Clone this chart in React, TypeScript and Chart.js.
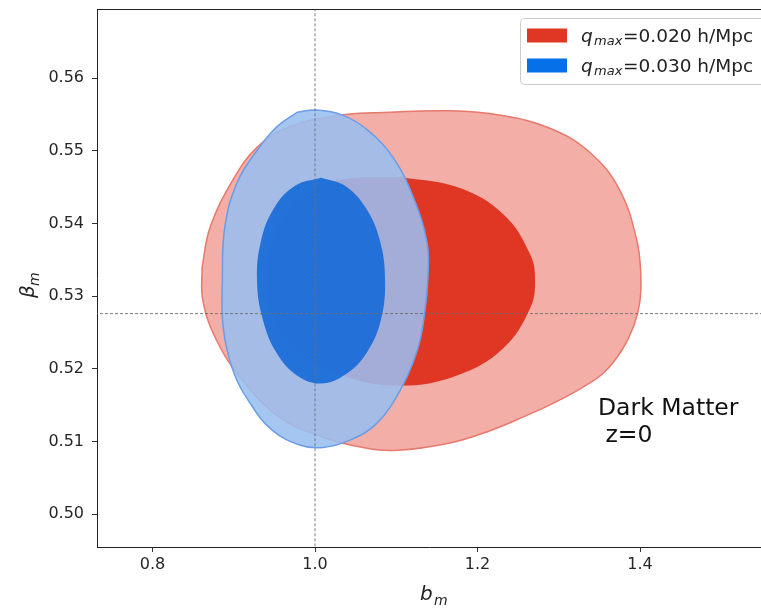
import React, { useEffect, useRef } from "react";
import { Chart, registerables } from "chart.js";

Chart.register(...registerables);

// ---- Data ----
const xTicks = [0.8, 1.0, 1.2, 1.4];
const yTicks = [0.5, 0.51, 0.52, 0.53, 0.54, 0.55, 0.56];

const fiducialB = 1.0;
const fiducialBeta = 0.5276;

// q_max = 0.020 h/Mpc, 95% contour
const redOuterX = [0.861, 0.871, 0.899, 0.929, 0.969, 1.031, 1.092, 1.166, 1.228, 1.289, 1.338, 1.375, 1.396, 1.401, 1.4, 1.3926, 1.3778, 1.3557, 1.3298, 1.2954, 1.2585, 1.2154, 1.166, 1.101, 1.059, 1.01, 0.957, 0.911, 0.879, 0.862];
const redOuterY = [0.534, 0.5395, 0.546, 0.5505, 0.5533, 0.5549, 0.5553, 0.5555, 0.5549, 0.5531, 0.5498, 0.5446, 0.5377, 0.5329, 0.5294, 0.526, 0.5226, 0.5195, 0.5175, 0.5154, 0.5135, 0.5115, 0.5098, 0.5088, 0.5092, 0.5106, 0.5133, 0.5184, 0.5239, 0.5294];
// q_max = 0.020 h/Mpc, 68% contour
const redInnerX = [1.1046, 1.1748, 1.2314, 1.2646, 1.2708, 1.2646, 1.2314, 1.1748, 1.1046, 1.0345, 0.9778, 0.9446, 0.9397, 0.9446, 0.9606, 0.9877, 1.0308];
const redInnerY = [0.5464, 0.545, 0.5413, 0.5358, 0.5321, 0.5283, 0.5228, 0.5191, 0.5177, 0.5191, 0.5228, 0.5283, 0.5321, 0.5363, 0.5405, 0.5439, 0.546];
// q_max = 0.030 h/Mpc, 95% contour
const blueOuterX = [0.978, 1.002, 1.034, 1.064, 1.096, 1.121, 1.138, 1.139, 1.135, 1.126, 1.105, 1.076, 1.043, 1.01, 0.982, 0.948, 0.92, 0.899, 0.887, 0.886, 0.889, 0.904, 0.929, 0.953];
const blueOuterY = [0.5553, 0.5556, 0.5549, 0.5529, 0.5491, 0.5436, 0.5373, 0.5326, 0.5277, 0.5226, 0.5171, 0.5125, 0.5102, 0.5092, 0.5095, 0.5115, 0.5153, 0.5198, 0.5257, 0.5322, 0.5395, 0.5456, 0.5501, 0.5533];
// q_max = 0.030 h/Mpc, 68% contour
const blueInnerX = [1.0074, 1.0369, 1.0628, 1.08, 1.0862, 1.0812, 1.064, 1.0382, 1.0074, 0.9778, 0.9532, 0.936, 0.9286, 0.9335, 0.9495, 0.9754];
const blueInnerY = [0.5463, 0.5452, 0.5421, 0.5376, 0.5322, 0.5268, 0.5223, 0.5193, 0.518, 0.5191, 0.5221, 0.5267, 0.5322, 0.5376, 0.5421, 0.5452];

const legendSymbol = "q";
const legendSub = "max";
const legendValues = ["=0.020 h/Mpc", "=0.030 h/Mpc"];
const legendColors = ["rgb(224,54,36)", "rgb(6,112,232)"];
const noteLines = ["Dark Matter", " z=0"];

const ring = (xs: number[], ys: number[]) => {
  const pts = xs.map((x, i) => ({ x, y: ys[i] }));
  pts.push(pts[0]);
  return pts;
};

const FONT = '"DejaVu Sans", sans-serif';

const annotPlugin = {
  id: "annot",
  afterDraw(chart: any) {
    const { ctx, chartArea } = chart;
    ctx.save();
    // top spine
    ctx.strokeStyle = "#222";
    ctx.lineWidth = 1;
    ctx.beginPath();
    ctx.moveTo(chartArea.left, chartArea.top + 0.5);
    ctx.lineTo(chartArea.right, chartArea.top + 0.5);
    ctx.stroke();

    // legend
    ctx.fillStyle = "rgba(255,255,255,0.8)";
    ctx.strokeStyle = "#cccccc";
    ctx.beginPath();
    (ctx as any).roundRect(520.5, 18.5, 270, 66, 4);
    ctx.fill();
    ctx.stroke();
    ctx.textAlign = "left";
    ctx.textBaseline = "alphabetic";
    legendValues.forEach((val, i) => {
      const yc = 35.5 + 30 * i;
      ctx.fillStyle = legendColors[i];
      ctx.fillRect(527, yc - 7, 40, 14);
      ctx.fillStyle = "#222";
      ctx.font = `italic 18.5px ${FONT}`;
      ctx.fillText(legendSymbol, 581, yc + 6.2);
      ctx.font = `italic 13px ${FONT}`;
      ctx.fillText(legendSub, 594, yc + 9.5);
      ctx.font = `18.5px ${FONT}`;
      ctx.fillText(val, 623, yc + 6.2);
    });

    // note
    ctx.fillStyle = "#111";
    ctx.font = `23.5px ${FONT}`;
    ctx.fillText(noteLines[0], 598, 415);
    ctx.fillText(noteLines[1], 598, 442);

    // x title
    ctx.fillStyle = "#222";
    ctx.font = `italic 20px ${FONT}`;
    ctx.fillText("b", 420, 600);
    ctx.font = `italic 14px ${FONT}`;
    ctx.fillText("m", 434, 605);

    // y title
    ctx.translate(34, 298);
    ctx.rotate(-Math.PI / 2);
    ctx.font = `italic 20px ${FONT}`;
    ctx.fillText("β", 0, 0);
    ctx.font = `italic 14px ${FONT}`;
    ctx.fillText("m", 12, 5);
    ctx.restore();
  },
};

export default function App() {
  const ref = useRef<HTMLCanvasElement>(null);
  useEffect(() => {
    document.body.style.margin = "0";
    const canvas = ref.current!;
    const tickFont = { family: FONT, size: 16 };
    const chart = new Chart(canvas, {
      type: "scatter",
      data: {
        datasets: [
          {
            label: "q_max=0.020 h/Mpc (95%)",
            data: ring(redOuterX, redOuterY),
            showLine: true,
            pointRadius: 0,
            fill: "shape",
            backgroundColor: "rgba(224,54,36,0.4)",
            borderColor: "#e7796d",
            borderWidth: 1.5,
            tension: 0.4,
            order: 6,
          },
          {
            label: "q_max=0.020 h/Mpc (68%)",
            data: ring(redInnerX, redInnerY),
            showLine: true,
            pointRadius: 0,
            fill: "shape",
            backgroundColor: "rgb(224,54,36)",
            borderColor: "rgb(224,54,36)",
            borderWidth: 0,
            tension: 0.4,
            order: 5,
          },
          {
            label: "q_max=0.030 h/Mpc (95%)",
            data: ring(blueOuterX, blueOuterY),
            showLine: true,
            pointRadius: 0,
            fill: "shape",
            backgroundColor: "rgba(154,190,240,0.88)",
            borderColor: "#6a9de6",
            borderWidth: 1.5,
            tension: 0.4,
            order: 4,
          },
          {
            label: "q_max=0.030 h/Mpc (68%)",
            data: ring(blueInnerX, blueInnerY),
            showLine: true,
            pointRadius: 0,
            fill: "shape",
            backgroundColor: "rgba(20,105,216,0.9)",
            borderColor: "rgba(20,105,216,0.9)",
            borderWidth: 0,
            tension: 0.4,
            order: 3,
          },
          {
            label: "fid b",
            data: [
              { x: fiducialB, y: 0.4 },
              { x: fiducialB, y: 0.6 },
            ],
            showLine: true,
            pointRadius: 0,
            borderColor: "rgba(110,110,110,0.9)",
            borderWidth: 1,
            borderDash: [3, 2],
            fill: false,
            order: 2,
          },
          {
            label: "fid beta",
            data: [
              { x: 0.6, y: fiducialBeta },
              { x: 1.7, y: fiducialBeta },
            ],
            showLine: true,
            pointRadius: 0,
            borderColor: "rgba(110,110,110,0.9)",
            borderWidth: 1,
            borderDash: [3, 2],
            fill: false,
            order: 1,
          },
        ],
      },
      options: {
        responsive: false,
        animation: false,
        events: [],
        layout: { padding: { left: 0, right: 0, top: 9, bottom: 0 } },
        plugins: {
          legend: { display: false },
          tooltip: { enabled: false },
        },
        scales: {
          x: {
            type: "linear",
            min: 0.7317,
            max: 1.5489,
            afterBuildTicks: (s: any) => {
              s.ticks = xTicks.map((v) => ({ value: v }));
            },
            afterFit: (s: any) => {
              s.height = 62;
              s.paddingLeft = 0;
              s.paddingRight = 0;
            },
            ticks: {
              font: tickFont,
              color: "#262626",
              padding: 3,
              maxRotation: 0,
              autoSkip: false,
              callback: (v: any) => Number(v).toFixed(1),
            },
            grid: {
              drawOnChartArea: false,
              drawTicks: true,
              tickLength: 5,
              color: "#333",
            },
            border: { display: true, color: "#222", width: 1 },
          },
          y: {
            type: "linear",
            min: 0.4955,
            max: 0.5695,
            afterBuildTicks: (s: any) => {
              s.ticks = yTicks.map((v) => ({ value: v }));
            },
            afterFit: (s: any) => {
              s.width = 97;
              s.paddingTop = 0;
              s.paddingBottom = 0;
            },
            ticks: {
              font: tickFont,
              color: "#262626",
              padding: 8,
              autoSkip: false,
              callback: (v: any) => Number(v).toFixed(2),
            },
            grid: {
              drawOnChartArea: false,
              drawTicks: true,
              tickLength: 5,
              color: "#333",
            },
            border: { display: true, color: "#222", width: 1 },
          },
        },
      },
      plugins: [annotPlugin],
    } as any);
    return () => chart.destroy();
  }, []);
  return (
    <div style={{ width: 761, height: 609 }}>
      <canvas ref={ref} width={761} height={609} style={{ display: "block" }} />
    </div>
  );
}
